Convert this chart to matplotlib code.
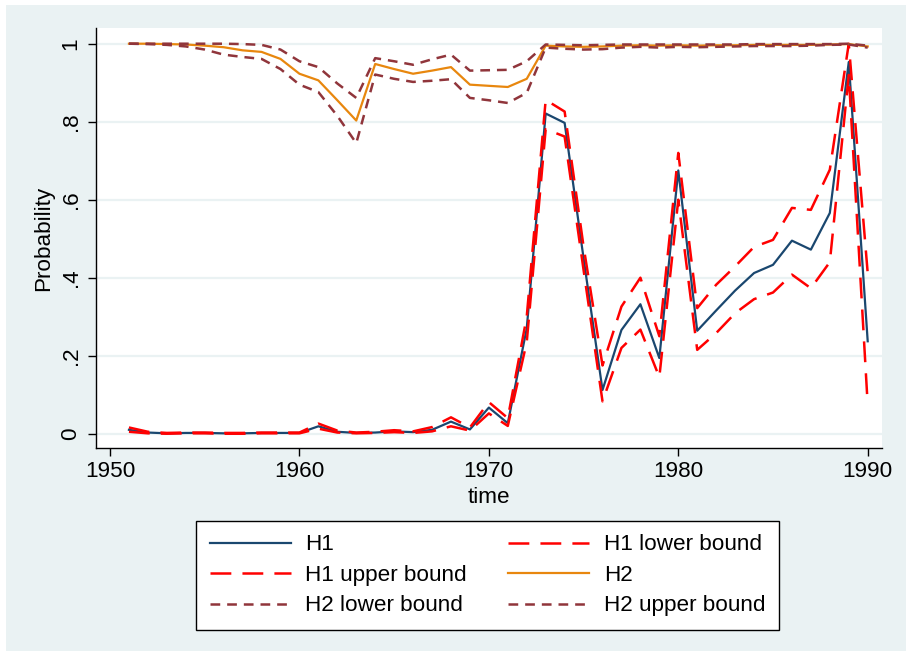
import matplotlib
matplotlib.use("Agg")
import matplotlib.pyplot as plt
from matplotlib.patches import Rectangle

years = list(range(1951, 1991))

h1 = [0.010, 0.003, 0.001, 0.002, 0.002, 0.001, 0.001, 0.002, 0.002, 0.002,
      0.019, 0.005, 0.002, 0.003, 0.006, 0.004, 0.010, 0.031, 0.011, 0.067,
      0.027, 0.270, 0.821, 0.797, 0.450, 0.112, 0.266, 0.332, 0.194, 0.675,
      0.264, 0.316, 0.367, 0.412, 0.433, 0.495, 0.472, 0.566, 0.953, 0.237]
h1_lower = [0.005, 0.001, 0.000, 0.001, 0.001, 0.000, 0.000, 0.001, 0.001, 0.001,
            0.013, 0.003, 0.001, 0.002, 0.004, 0.002, 0.006, 0.019, 0.008, 0.052,
            0.020, 0.235, 0.781, 0.762, 0.420, 0.083, 0.220, 0.267, 0.145, 0.600,
            0.215, 0.258, 0.309, 0.345, 0.362, 0.408, 0.373, 0.440, 0.920, 0.074]
h1_upper = [0.016, 0.005, 0.002, 0.003, 0.003, 0.002, 0.002, 0.003, 0.003, 0.003,
            0.026, 0.008, 0.003, 0.005, 0.009, 0.006, 0.017, 0.042, 0.016, 0.081,
            0.040, 0.300, 0.856, 0.826, 0.480, 0.175, 0.326, 0.400, 0.250, 0.720,
            0.322, 0.382, 0.429, 0.479, 0.497, 0.579, 0.574, 0.677, 1.000, 0.412]
h2 = [1.000, 1.000, 0.999, 0.998, 0.995, 0.991, 0.983, 0.979, 0.961, 0.923,
      0.906, 0.855, 0.803, 0.948, 0.935, 0.923, 0.931, 0.940, 0.895, 0.892,
      0.889, 0.910, 0.995, 0.993, 0.992, 0.993, 0.995, 0.996, 0.995, 0.996,
      0.995, 0.996, 0.996, 0.997, 0.997, 0.997, 0.997, 0.998, 0.999, 0.993]
h2_lower = [1.000, 0.999, 0.997, 0.993, 0.985, 0.972, 0.966, 0.961, 0.935, 0.895,
            0.876, 0.815, 0.745, 0.921, 0.910, 0.902, 0.905, 0.909, 0.861, 0.855,
            0.848, 0.874, 0.990, 0.987, 0.985, 0.986, 0.990, 0.992, 0.990, 0.992,
            0.991, 0.992, 0.993, 0.994, 0.994, 0.994, 0.995, 0.997, 0.998, 0.990]
h2_upper = [1.000, 1.000, 1.000, 1.000, 1.000, 1.000, 0.999, 0.997, 0.985, 0.955,
            0.940, 0.898, 0.861, 0.963, 0.955, 0.946, 0.960, 0.972, 0.931, 0.932,
            0.933, 0.955, 0.998, 0.997, 0.996, 0.997, 0.998, 0.998, 0.998, 0.998,
            0.998, 0.998, 0.998, 0.999, 0.999, 0.999, 0.999, 0.999, 1.000, 0.995]

yticks = [0, 0.2, 0.4, 0.6, 0.8, 1.0]
ytick_labels = ["0", ".2", ".4", ".6", ".8", "1"]
xticks = [1950, 1960, 1970, 1980, 1990]

plt.rcParams['font.family'] = ['Liberation Sans', 'DejaVu Sans']
plt.rcParams['lines.scale_dashes'] = False

BG = "#EAF2F3"
FS = 16.2
W, H = 906, 657
fig = plt.figure(figsize=(W / 100, H / 100), dpi=100, facecolor="white")
fig.patches.append(Rectangle((6 / W, 1 - 651 / H), 900 / W, 646 / H,
                             transform=fig.transFigure, facecolor=BG,
                             edgecolor="none", zorder=-10))

ax = fig.add_axes([95.5 / W, 1 - 448.3 / H, 786.2 / W, 420 / H])
ax.set_zorder(1)
ax.set_facecolor("white")
ax.set_xlim(1949.234, 1990.739)
ax.set_ylim(-0.0374, 1.0395)

for y in yticks:
    ax.axhline(y, color=BG, lw=1.6, zorder=1)

navy = "#1a476f"
red = "#ff0000"
orange = "#e8870e"
maroon = "#90353b"
long_dash = (0, (15, 8))
short_dash = (0, (7, 5))

l1, = ax.plot(years, h1, color=navy, lw=1.6, label="H1", zorder=3)
l2, = ax.plot(years, h1_lower, color=red, lw=1.8, linestyle=long_dash,
              label="H1 lower bound", zorder=3)
l3, = ax.plot(years, h1_upper, color=red, lw=1.8, linestyle=long_dash,
              label="H1 upper bound", zorder=3)
l4, = ax.plot(years, h2, color=orange, lw=1.6, label="H2", zorder=3)
l5, = ax.plot(years, h2_lower, color=maroon, lw=1.8, linestyle=short_dash,
              label="H2 lower bound", zorder=3)
l6, = ax.plot(years, h2_upper, color=maroon, lw=1.8, linestyle=short_dash,
              label="H2 upper bound", zorder=3)

for s in ["top", "right"]:
    ax.spines[s].set_visible(False)
for s in ["left", "bottom"]:
    ax.spines[s].set_linewidth(1.0)
    ax.spines[s].set_color("black")

ax.set_xticks(xticks)
ax.set_xticklabels([str(x) for x in xticks])
ax.set_yticks(yticks)
ax.set_yticklabels(ytick_labels)
ax.tick_params(axis="both", length=6, width=1.0, labelsize=FS, color="black")
ax.tick_params(axis="x", pad=3)
ax.tick_params(axis="y", pad=4)
for lab in ax.get_yticklabels():
    lab.set_rotation(90)
    lab.set_va("center")

ax.set_xlabel("time", fontsize=FS)
ax.xaxis.label.set_va("center")
ax.xaxis.set_label_coords(0.5, -0.117)
ax.set_ylabel("Probability", fontsize=FS)
ax.yaxis.label.set_va("center")
ax.yaxis.set_label_coords(-0.066, 0.5)

handles = [l1, l3, l5, l2, l4, l6]
leg = fig.legend(handles=handles, labels=[h.get_label() for h in handles],
                 ncol=2, loc="upper left",
                 bbox_to_anchor=(196 / W, 1 - 521 / H),
                 fontsize=FS, frameon=True, fancybox=False,
                 edgecolor="black", facecolor="white", framealpha=1,
                 handlelength=3.6, handletextpad=0.65, columnspacing=1.85,
                 borderpad=0.6, labelspacing=0.42, borderaxespad=0)
leg.get_frame().set_linewidth(1.0)

fig.savefig("out.png", dpi=100, facecolor="white")
